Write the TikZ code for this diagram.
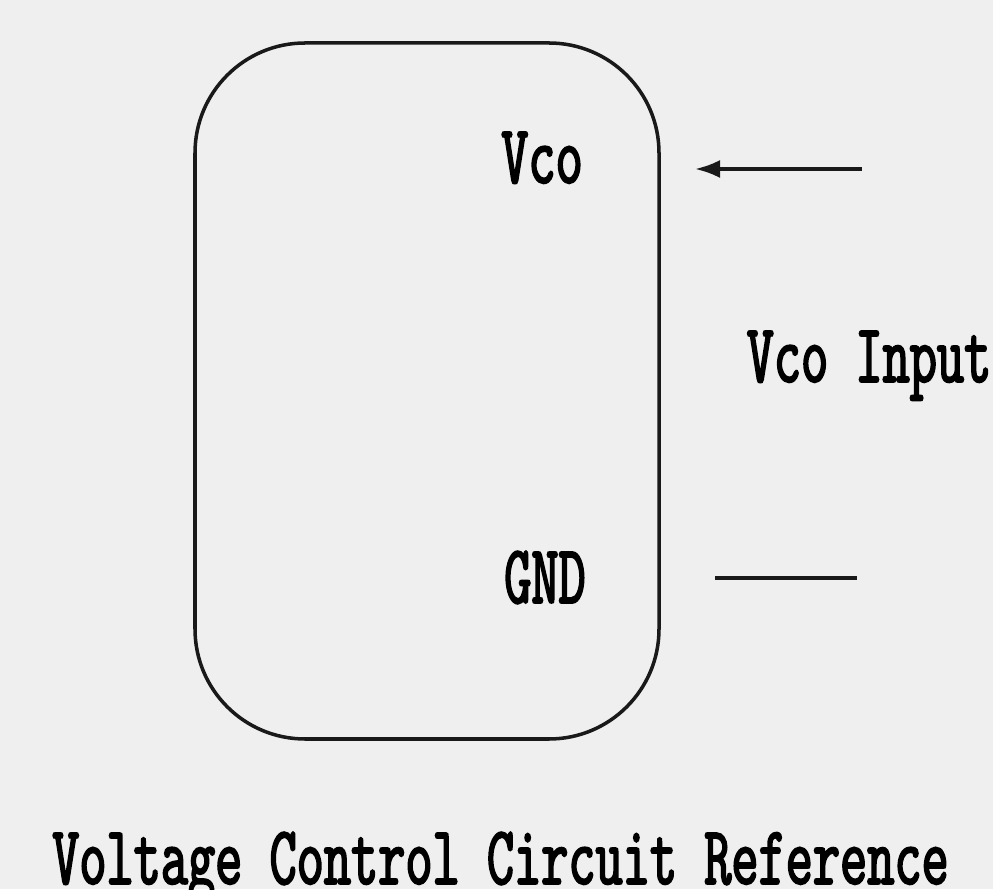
\documentclass[tikz,border=0pt]{standalone}
\usepackage{fontspec}
\usepackage{xcolor}
\usetikzlibrary{arrows.meta, positioning}
\newfontfamily\labelfont[FakeStretch=0.62, FakeBold=2]{lmmono10-regular.otf}
\definecolor{paper}{RGB}{239, 239, 239}
\definecolor{ink}{RGB}{25, 25, 25}

\begin{document}
\begin{tikzpicture}[
  every node/.style={font=\labelfont\fontsize{47.5}{56}\selectfont, text=black, inner sep=0pt},
  block/.style={
    draw=ink, line width=2pt, rounded corners=2.2cm,
    minimum width=9.28cm, minimum height=13.92cm
  },
  pin/.style={anchor=base},
  wire/.style={draw=ink, line width=2pt},
  arrow/.style={wire, -{Latex[length=5mm, width=3.6mm]}}
]

  % Fondo e dimensioni
  \fill[paper] (0,0) rectangle (19.86,17.78);
  \useasboundingbox (0,0) rectangle (19.86,17.78);

  % Blocco principale
  \node[block] (vcc) at (8.54,9.96) {};

  % Piedini dentro il blocco
  \node[pin] (vco) at (10.84,14.12) {Vco};
  \node[pin] (gnd) at (10.90,5.72) {GND};

  % Ingresso a destra
  \node[pin] (input) at (17.38,10.14) {Vco Input};
  \coordinate (vcofrom) at (17.24,14.40);
  \coordinate (vcoto) at (13.90,14.40);
  \coordinate (gndfrom) at (14.30,6.22);
  \coordinate (gndto) at (17.14,6.22);

  \draw[arrow] (vcofrom) -- (vcoto);
  \draw[wire] (gndfrom) -- (gndto);

  % Titolo
  \node[pin] (title) at (10.01,0.10) {Voltage Control Circuit Reference};

\end{tikzpicture}
\end{document}
